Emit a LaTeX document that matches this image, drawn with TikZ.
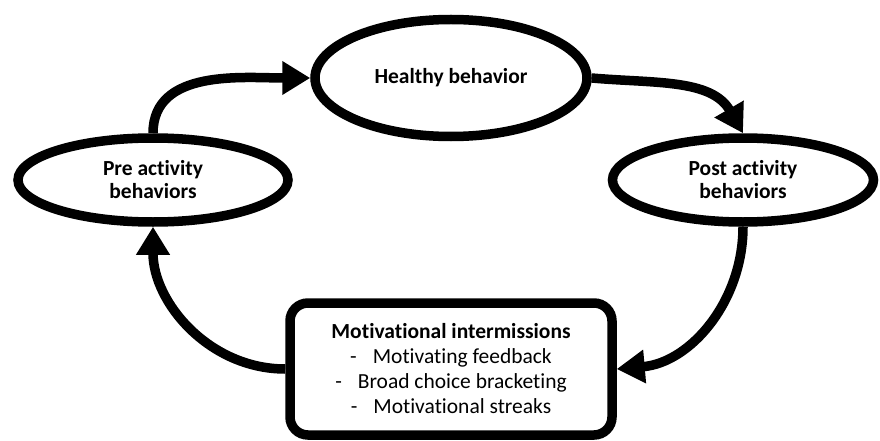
\documentclass[tikz,border=0pt]{standalone}
\usepackage{fontspec}
\setmainfont{Carlito}[Ligatures=TeX,RawFeature={-liga;-clig;-dlig}]
\usetikzlibrary{shapes.geometric,arrows.meta}
\tikzset{
  oval/.style={draw, ellipse, line width=9.5pt, inner sep=0pt, align=center, font=\fontsize{21.5}{23}\selectfont\bfseries},
  flow/.style={line width=9.5pt, -{Triangle[length=28pt,width=32pt]}},
}
\newcommand{\itm}[1]{-\hspace{16pt}#1}

\begin{document}
\begin{tikzpicture}[x=1pt,y=1pt]
        \useasboundingbox (0,0) rectangle (880,-441);
        \node[oval, minimum width=272pt, minimum height=117pt] at (451,-78) (healthy) {Healthy behavior};
        \node[oval, minimum width=270pt, minimum height=84pt] at (153,-180) (pre) {Pre activity\\behaviors};
        \node[oval, minimum width=261pt, minimum height=84pt] at (743,-180) (post) {Post activity\\behaviors};
        \node[draw, rounded corners=18pt, line width=9.5pt, minimum width=322pt, minimum height=132pt, align=center, font=\fontsize{21.5}{25}\selectfont] at (451,-369) (mi) {\textbf{Motivational intermissions}\\\itm{Motivating feedback}\\\itm{Broad choice bracketing}\\\itm{Motivational streaks}};

        \draw[flow] (pre.north) to[out=90,in=180] (healthy.west);
        \draw[flow] (healthy.east) to[out=-5,in=120] (post.north);
        \draw[flow] (post.south) to[out=-90,in=5] (mi.east);
        \draw[flow] (mi.west) to[out=180,in=-90] (pre.south);
      \end{tikzpicture}
\end{document}
